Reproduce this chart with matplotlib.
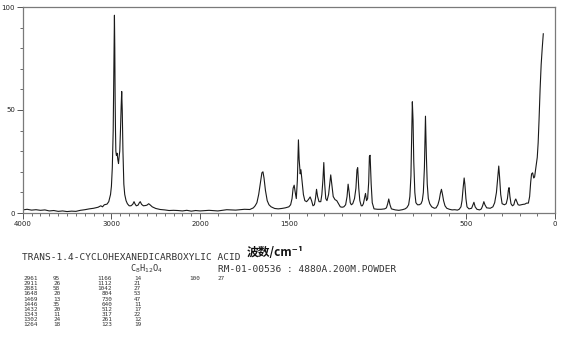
import numpy as np
import matplotlib
matplotlib.use("Agg")
import matplotlib.pyplot as plt
from matplotlib.ticker import FixedLocator, NullFormatter

# spectrum (wavenumber cm-1, relative intensity)
wavenumber = [4000, 3950, 3900, 3850, 3800, 3750, 3700, 3650, 3600, 3550, 3500, 3450, 3400, 3350,
              3300, 3250, 3200, 3150, 3120, 3100, 3080, 3050, 3030, 3010, 3000, 2990, 2980, 2972,
              2966, 2962, 2958, 2954, 2950, 2944, 2936, 2928, 2920, 2914, 2906, 2898, 2890, 2884,
              2878, 2870, 2860, 2850, 2835, 2820, 2800, 2780, 2760, 2745, 2735, 2720, 2700, 2685,
              2675, 2660, 2640, 2620, 2600, 2580, 2565, 2540, 2500, 2450, 2400, 2350, 2300, 2250,
              2200, 2150, 2100, 2050, 2000,
              1950, 1900, 1850, 1800, 1750, 1720, 1700, 1690, 1680, 1670, 1660, 1652, 1646, 1640,
              1632, 1622, 1612, 1600, 1580, 1560, 1540, 1520, 1500, 1490, 1482, 1476, 1470, 1464,
              1458, 1452, 1448, 1446, 1442, 1436, 1432, 1426, 1418, 1410, 1400, 1390, 1380, 1372,
              1364, 1356, 1350, 1344, 1338, 1330, 1320, 1314, 1308, 1303, 1298, 1292, 1285, 1276,
              1270, 1264, 1258, 1250, 1240, 1230, 1220, 1210, 1200, 1190, 1180, 1172, 1166, 1160,
              1154, 1148, 1140, 1130, 1122, 1116, 1112, 1106, 1100, 1092, 1086, 1080, 1072, 1068,
              1062, 1056, 1050, 1046, 1042, 1036, 1030, 1020, 1000, 980, 960, 950, 943, 937,
              930, 922, 900, 880, 860, 845, 835, 825, 818, 812, 808, 804, 800, 796,
              790, 784, 775, 765, 755, 748, 742, 736, 730, 725, 720, 714, 706, 695,
              680, 670, 660, 652, 646, 640, 634, 628, 620, 610, 595, 580, 565, 550,
              540, 530, 524, 518, 512, 508, 502, 496, 485, 470, 462, 457, 450, 440,
              425, 415, 408, 401, 395, 385, 365, 350, 340, 330, 322, 317, 312, 306,
              298, 285, 275, 268, 263, 259, 254, 248, 240, 232, 226, 221, 215, 208,
              200, 190, 180, 170, 160, 150, 143, 137, 132, 126, 120, 115, 108, 100,
              95, 90, 84, 78, 72, 66]
intensity = [1.5, 1.8, 1.4, 1.6, 1.3, 1.5, 1.0, 1.2, 0.8, 1.0, 0.7, 0.9, 0.8, 1.3,
             1.6, 2.0, 2.3, 2.8, 3.5, 3.0, 4.0, 4.3, 5.5, 9, 13, 22, 40, 70,
             96, 80, 55, 40, 30, 28, 29, 26, 24, 27, 30, 40, 52, 59,
             50, 30, 14, 9, 6, 4.5, 3.5, 3.5, 4.2, 5.5, 4.5, 3.5, 3.8, 5.0,
             5.5, 4.2, 3.5, 3.6, 3.8, 4.5, 4.0, 3.0, 2.2, 1.7, 1.5, 1.2, 1.3, 1.2,
             1.0, 1.3, 0.9, 1.2, 1.0,
             1.3, 1.0, 1.6, 1.4, 1.8, 1.7, 2.5, 3.5, 5, 9, 15, 19.5, 20, 17,
             11, 6, 4, 3, 2.2, 2, 2.2, 2.5, 3, 4, 7, 12, 13.5, 10,
             7, 16, 30, 35.5, 26, 19, 21, 16, 9, 6, 5.5, 6.5, 7.8, 6,
             3.5, 4, 7, 11.5, 8, 5.5, 5.5, 9, 16, 24.5, 14, 7, 6, 9,
             14, 18.5, 14, 8, 6.5, 6, 4.5, 3, 2.8, 3, 4, 8, 14, 10,
             5, 4, 4.5, 7, 12, 21, 22, 12, 6, 3.5, 3.5, 4.5, 8, 9.5,
             6, 7, 15, 27.5, 28, 14, 5, 2, 1.8, 1.8, 2, 2.5, 4.5, 6.8,
             4, 2, 1.5, 1.3, 1.6, 2, 2.6, 4, 8, 18, 35, 54, 45, 25,
             10, 5, 4, 4, 4.5, 6, 10, 22, 47, 28, 14, 7, 4.5, 3,
             2.3, 2.5, 4, 6.5, 9.5, 11.5, 9, 6, 3.5, 2.3, 1.8, 1.5, 1.6, 1.4,
             1.8, 3, 6, 12, 17, 14, 7, 3, 2, 2.3, 4, 5.2, 3, 1.8,
             1.5, 2, 3.5, 5.5, 4, 2.5, 2.3, 3, 5, 10, 18, 22.8, 17, 9,
             4.5, 4, 4.5, 7, 11, 12.3, 8, 4.5, 3.5, 4, 6, 6.8, 5.5, 4,
             3.8, 4, 4.2, 4.3, 4.8, 4.8, 8, 15, 19, 19.5, 17, 17.5, 22, 27,
             34, 45, 60, 72, 80, 87]

# peak table printed under the chart
peak_wn_1 = ["2961", "2911", "2881", "1648", "1469", "1446", "1432", "1343", "1302", "1264"]
peak_int_1 = ["95", "26", "58", "20", "13", "35", "20", "11", "24", "18"]
peak_wn_2 = ["1166", "1112", "1042", "804", "730", "640", "512", "317", "261", "123"]
peak_int_2 = ["14", "21", "27", "53", "47", "11", "17", "22", "12", "19"]
peak_wn_3 = ["100"]
peak_int_3 = ["27"]

major_ticks = [4000, 3000, 2000, 1500, 500, 0]
minor_ticks = list(range(4000, 2000, -100)) + list(range(2000, -1, -100))


# 4000-2000 at single scale, 2000-0 stretched twice
def fwd(w):
    w = np.asarray(w, dtype=float)
    return np.where(w >= 2000, w, 2 * w - 2000)


def inv(p):
    p = np.asarray(p, dtype=float)
    return np.where(p >= 2000, p, (p + 2000) / 2)


W, H = 570, 359
fig = plt.figure(figsize=(W / 100, H / 100), dpi=100)
ax = fig.add_axes([22.7 / W, 1 - 213 / H, (555 - 22.7) / W, (213 - 7) / H])
ax.set_xscale("function", functions=(fwd, inv))
ax.plot(wavenumber, intensity, color="#1a1a1a", lw=0.8)
ax.set_xlim(4000, 0)
ax.set_ylim(0, 100)

for s in ax.spines.values():
    s.set_color("#7a7a7a")
    s.set_linewidth(0.9)

ax.xaxis.set_major_locator(FixedLocator(major_ticks))
ax.xaxis.set_minor_locator(FixedLocator(minor_ticks))
ax.xaxis.set_minor_formatter(NullFormatter())
ax.set_xticklabels([str(t) for t in major_ticks])
ax.yaxis.set_major_locator(FixedLocator([0, 50, 100]))
ax.yaxis.set_minor_locator(FixedLocator(list(range(0, 101, 10))))
ax.tick_params(which="major", length=4, width=0.7, color="#555555", labelsize=5,
               labelcolor="#222222", pad=1.5, direction="out")
ax.tick_params(which="minor", length=2, width=0.6, color="#555555", direction="out")

mono = "DejaVu Sans Mono"
fig.text(22 / W, 1 - 257 / H, "TRANS-1.4-CYCLOHEXANEDICARBOXYLIC ACID", family=mono,
         fontsize=6.8, color="#333333", va="center")
fig.text(247 / W, 1 - 252 / H, "波数/cm⁻¹", family=["Noto Sans CJK SC", "DejaVu Sans"],
         fontsize=8.5, fontweight="bold", color="#111111", va="center")
fig.text(130 / W, 1 - 269 / H, r"C$_8$H$_{12}$O$_4$", family=mono, fontsize=6.2,
         color="#333333", va="center")
fig.text(218 / W, 1 - 270 / H, "RM-01-00536 : 4880A.200M.POWDER", family=mono,
         fontsize=6.8, color="#333333", va="center")

row_y = 278.5
pitch = 5.15
tsize = 4.3
for i in range(len(peak_wn_1)):
    y = 1 - (row_y + i * pitch) / H
    fig.text(23 / W, y, peak_wn_1[i], family=mono, fontsize=tsize, color="#333333", va="center")
    fig.text(53 / W, y, peak_int_1[i], family=mono, fontsize=tsize, color="#333333", va="center")
    fig.text(112 / W, y, peak_wn_2[i], family=mono, fontsize=tsize, color="#333333",
             va="center", ha="right")
    fig.text(134 / W, y, peak_int_2[i], family=mono, fontsize=tsize, color="#333333", va="center")
for i in range(len(peak_wn_3)):
    y = 1 - (row_y + i * pitch) / H
    fig.text(189 / W, y, peak_wn_3[i], family=mono, fontsize=tsize, color="#333333", va="center")
    fig.text(218 / W, y, peak_int_3[i], family=mono, fontsize=tsize, color="#333333", va="center")

fig.savefig("out.png", dpi=100)
